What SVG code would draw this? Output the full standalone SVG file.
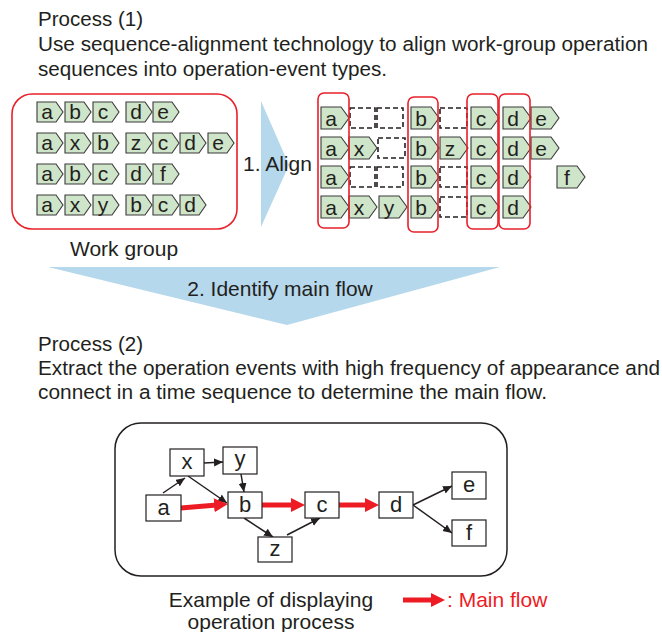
<svg xmlns="http://www.w3.org/2000/svg" xmlns:xlink="http://www.w3.org/1999/xlink" width="662" height="632" viewBox="0 0 662 632">
  <style>
    .p { font-family: "Liberation Sans", Arial, sans-serif; font-size: 20.5px; fill: #231f20; }
    .t { font-family: "Liberation Sans", Arial, sans-serif; font-size: 21px; fill: #231f20; }
    .lt { font-family: "Liberation Sans", Arial, sans-serif; font-size: 21px; fill: #231f20; text-anchor: middle; }
    .tag { fill: #cfe5c9; stroke: #3a3a3a; stroke-width: 1.1; }
    .gap { fill: none; stroke: #231f20; stroke-width: 1.6; stroke-dasharray: 5 3; }
    .grp { fill: none; stroke: #e8202a; stroke-width: 1.6; }
    .blue { fill: #b5d8ec; }
    .node rect { fill: #fff; stroke: #231f20; stroke-width: 1.2; }
    .node text { font-family: "Liberation Sans", Arial, sans-serif; font-size: 22px; fill: #231f20; text-anchor: middle; }
    .edge { stroke: #231f20; stroke-width: 1.5; fill: none; marker-end: url(#ah); }
    .main { stroke: #ed1c24; stroke-width: 5; fill: none; marker-end: url(#ahRed); }
  </style>
  <defs>
    <path id="tagL" class="tag" d="M0,0 H19 L26,10 L19,20 H0 Z"/>
    <path id="tagR" class="tag" d="M0,0 H20 L28,11 L20,22 H0 Z"/>
    <marker id="ah" markerUnits="userSpaceOnUse" markerWidth="10" markerHeight="9" refX="9" refY="4" orient="auto">
      <path d="M0,0 L9,4 L0,8 Z" fill="#231f20"/>
    </marker>
    <marker id="ahRed" markerUnits="userSpaceOnUse" markerWidth="15" markerHeight="15" refX="6" refY="7" orient="auto">
      <path d="M0,0 L14,7 L0,14 Z" fill="#ed1c24"/>
    </marker>
  </defs>

  <!-- Heading: process 1 -->
  <text class="p" x="38" y="26" textLength="105" lengthAdjust="spacingAndGlyphs">Process (1)</text>
  <text class="p" x="38" y="51" textLength="610" lengthAdjust="spacingAndGlyphs">Use sequence-alignment technology to align work-group operation</text>
  <text class="p" x="38" y="76" textLength="349" lengthAdjust="spacingAndGlyphs">sequences into operation-event types.</text>

  <!-- Work group: raw sequences -->
  <g id="workgroup">
    <rect class="grp" x="12" y="94" width="225" height="135" rx="20"/>
    <g transform="translate(37,102)"><use href="#tagL"/><text class="lt" x="10" y="17">a</text></g>
    <g transform="translate(65,102)"><use href="#tagL"/><text class="lt" x="10" y="17">b</text></g>
    <g transform="translate(93,102)"><use href="#tagL"/><text class="lt" x="10" y="17">c</text></g>
    <g transform="translate(126,102)"><use href="#tagL"/><text class="lt" x="10" y="17">d</text></g>
    <g transform="translate(153,102)"><use href="#tagL"/><text class="lt" x="10" y="17">e</text></g>

    <g transform="translate(37,133)"><use href="#tagL"/><text class="lt" x="10" y="17">a</text></g>
    <g transform="translate(65,133)"><use href="#tagL"/><text class="lt" x="10" y="17">x</text></g>
    <g transform="translate(93,133)"><use href="#tagL"/><text class="lt" x="10" y="17">b</text></g>
    <g transform="translate(126,133)"><use href="#tagL"/><text class="lt" x="10" y="17">z</text></g>
    <g transform="translate(153,133)"><use href="#tagL"/><text class="lt" x="10" y="17">c</text></g>
    <g transform="translate(180,133)"><use href="#tagL"/><text class="lt" x="10" y="17">d</text></g>
    <g transform="translate(208,133)"><use href="#tagL"/><text class="lt" x="10" y="17">e</text></g>

    <g transform="translate(37,164)"><use href="#tagL"/><text class="lt" x="10" y="17">a</text></g>
    <g transform="translate(65,164)"><use href="#tagL"/><text class="lt" x="10" y="17">b</text></g>
    <g transform="translate(93,164)"><use href="#tagL"/><text class="lt" x="10" y="17">c</text></g>
    <g transform="translate(126,164)"><use href="#tagL"/><text class="lt" x="10" y="17">d</text></g>
    <g transform="translate(153,164)"><use href="#tagL"/><text class="lt" x="10" y="17">f</text></g>

    <g transform="translate(37,195)"><use href="#tagL"/><text class="lt" x="10" y="17">a</text></g>
    <g transform="translate(65,195)"><use href="#tagL"/><text class="lt" x="10" y="17">x</text></g>
    <g transform="translate(93,195)"><use href="#tagL"/><text class="lt" x="10" y="17">y</text></g>
    <g transform="translate(126,195)"><use href="#tagL"/><text class="lt" x="10" y="17">b</text></g>
    <g transform="translate(153,195)"><use href="#tagL"/><text class="lt" x="10" y="17">c</text></g>
    <g transform="translate(180,195)"><use href="#tagL"/><text class="lt" x="10" y="17">d</text></g>
  </g>
  <text class="t" x="70" y="256">Work group</text>

  <!-- Step 1 arrow -->
  <polygon class="blue" points="261,101 261,227 289,165"/>
  <text class="t" x="243" y="171">1. Align</text>

  <!-- Aligned sequences -->
  <g id="aligned">
    <g transform="translate(321,107)"><use href="#tagR"/><text class="lt" x="10" y="18.5">a</text></g>
    <rect class="gap" x="350" y="108" width="25" height="20"/>
    <rect class="gap" x="377" y="108" width="26" height="20"/>
    <g transform="translate(411,107)"><use href="#tagR"/><text class="lt" x="10" y="18.5">b</text></g>
    <rect class="gap" x="440" y="108" width="27" height="20"/>
    <g transform="translate(471,107)"><use href="#tagR"/><text class="lt" x="10" y="18.5">c</text></g>
    <g transform="translate(503,107)"><use href="#tagR"/><text class="lt" x="10" y="18.5">d</text></g>
    <g transform="translate(531,107)"><use href="#tagR"/><text class="lt" x="10" y="18.5">e</text></g>

    <g transform="translate(321,137)"><use href="#tagR"/><text class="lt" x="10" y="18.5">a</text></g>
    <g transform="translate(349,137)"><use href="#tagR"/><text class="lt" x="10" y="18.5">x</text></g>
    <rect class="gap" x="378" y="138" width="27" height="20"/>
    <g transform="translate(411,137)"><use href="#tagR"/><text class="lt" x="10" y="18.5">b</text></g>
    <g transform="translate(440,137)"><use href="#tagR"/><text class="lt" x="10" y="18.5">z</text></g>
    <g transform="translate(471,137)"><use href="#tagR"/><text class="lt" x="10" y="18.5">c</text></g>
    <g transform="translate(503,137)"><use href="#tagR"/><text class="lt" x="10" y="18.5">d</text></g>
    <g transform="translate(531,137)"><use href="#tagR"/><text class="lt" x="10" y="18.5">e</text></g>

    <g transform="translate(321,166)"><use href="#tagR"/><text class="lt" x="10" y="18.5">a</text></g>
    <rect class="gap" x="350" y="167" width="25" height="20"/>
    <rect class="gap" x="377" y="167" width="26" height="20"/>
    <g transform="translate(411,166)"><use href="#tagR"/><text class="lt" x="10" y="18.5">b</text></g>
    <rect class="gap" x="440" y="167" width="27" height="20"/>
    <g transform="translate(471,166)"><use href="#tagR"/><text class="lt" x="10" y="18.5">c</text></g>
    <g transform="translate(503,166)"><use href="#tagR"/><text class="lt" x="10" y="18.5">d</text></g>
    <g transform="translate(557,166)"><use href="#tagR"/><text class="lt" x="10" y="18.5">f</text></g>

    <g transform="translate(321,196)"><use href="#tagR"/><text class="lt" x="10" y="18.5">a</text></g>
    <g transform="translate(349,196)"><use href="#tagR"/><text class="lt" x="10" y="18.5">x</text></g>
    <g transform="translate(379,196)"><use href="#tagR"/><text class="lt" x="10" y="18.5">y</text></g>
    <g transform="translate(411,196)"><use href="#tagR"/><text class="lt" x="10" y="18.5">b</text></g>
    <rect class="gap" x="440" y="197" width="27" height="20"/>
    <g transform="translate(471,196)"><use href="#tagR"/><text class="lt" x="10" y="18.5">c</text></g>
    <g transform="translate(503,196)"><use href="#tagR"/><text class="lt" x="10" y="18.5">d</text></g>

    <!-- aligned event columns -->
    <rect class="grp" x="318" y="93" width="31" height="135" rx="6"/>
    <rect class="grp" x="408" y="97" width="30" height="135" rx="6"/>
    <rect class="grp" x="467" y="94" width="31" height="135" rx="6"/>
    <rect class="grp" x="499" y="94" width="31" height="135" rx="6"/>
  </g>

  <!-- Step 2 arrow -->
  <polygon class="blue" points="48,267 500,267 287,325"/>
  <text class="t" x="280" y="296" text-anchor="middle">2. Identify main flow</text>

  <!-- Heading: process 2 -->
  <text class="p" x="38" y="351" textLength="105" lengthAdjust="spacingAndGlyphs">Process (2)</text>
  <text class="p" x="38" y="375" textLength="622" lengthAdjust="spacingAndGlyphs">Extract the operation events with high frequency of appearance and</text>
  <text class="p" x="38" y="399" textLength="509" lengthAdjust="spacingAndGlyphs">connect in a time sequence to determine the main flow.</text>

  <!-- Operation process example -->
  <rect x="115" y="423" width="392" height="153" rx="26" fill="none" stroke="#231f20" stroke-width="1.5"/>

  <g id="connectors">
    <line class="edge" x1="163" y1="493" x2="185" y2="478"/>
    <line class="edge" x1="188" y1="476" x2="227" y2="503"/>
    <line class="edge" x1="204" y1="463" x2="223" y2="462"/>
    <line class="edge" x1="241" y1="474" x2="244" y2="492"/>
    <line class="edge" x1="244" y1="518" x2="273" y2="537"/>
    <line class="edge" x1="287" y1="535" x2="320" y2="518"/>
    <line class="edge" x1="413" y1="505" x2="452" y2="486"/>
    <line class="edge" x1="413" y1="505" x2="452" y2="533"/>
    <line class="main" x1="181" y1="508" x2="220" y2="504.7"/>
    <line class="main" x1="262" y1="505" x2="297" y2="505"/>
    <line class="main" x1="339" y1="505" x2="371" y2="505"/>
  </g>

  <g id="node-x" class="node"><rect x="170" y="449" width="34" height="27"/><text x="187" y="469">x</text></g>
  <g id="node-y" class="node"><rect x="223" y="447" width="34" height="27"/><text x="240" y="466">y</text></g>
  <g id="node-a" class="node"><rect x="146" y="495" width="35" height="26"/><text x="163.5" y="515">a</text></g>
  <g id="node-b" class="node"><rect x="228" y="492" width="34" height="26"/><text x="245" y="512">b</text></g>
  <g id="node-c" class="node"><rect x="305" y="492" width="34" height="26"/><text x="322" y="512">c</text></g>
  <g id="node-d" class="node"><rect x="379" y="492" width="34" height="26"/><text x="396" y="512">d</text></g>
  <g id="node-e" class="node"><rect x="452" y="472" width="34" height="27"/><text x="469" y="492">e</text></g>
  <g id="node-f" class="node"><rect x="452" y="520" width="34" height="26"/><text x="469" y="540">f</text></g>
  <g id="node-z" class="node"><rect x="258" y="537" width="34" height="25"/><text x="275" y="556">z</text></g>

  <!-- Caption and legend -->
  <text class="t" x="271" y="607" text-anchor="middle">Example of displaying</text>
  <text class="t" x="271" y="629" text-anchor="middle">operation process</text>
  <line class="main" x1="403" y1="600" x2="437" y2="600"/>
  <text class="t" x="447" y="607" style="fill:#ed1c24">: Main flow</text>
</svg>
